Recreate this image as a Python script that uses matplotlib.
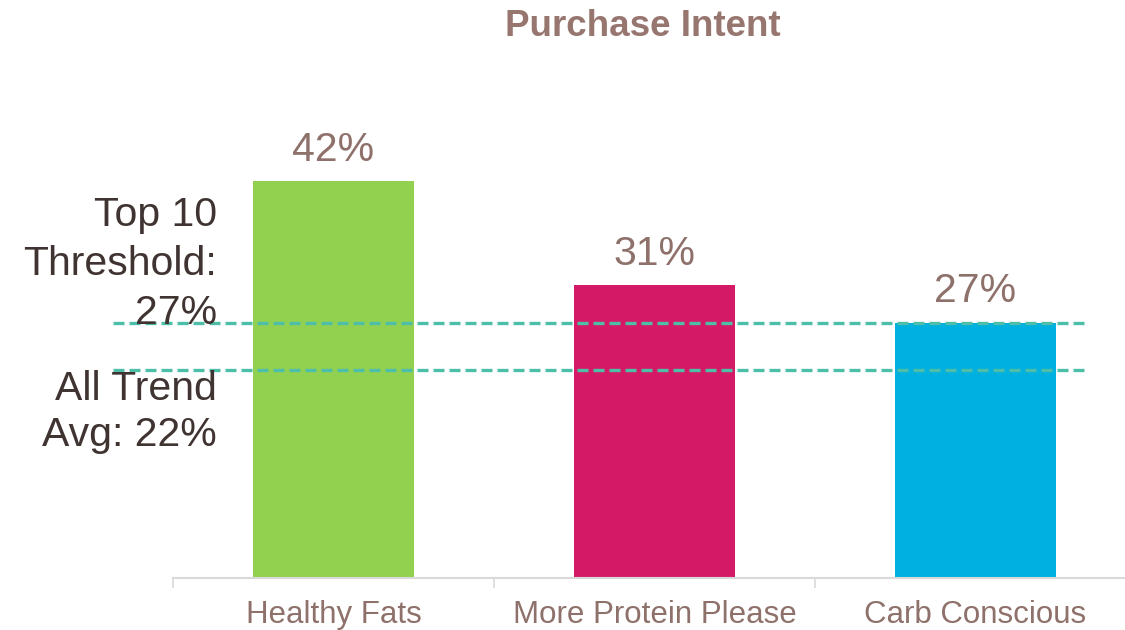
import numpy as np
import matplotlib.pyplot as plt

plt.rcParams['font.family'] = ['Liberation Sans', 'DejaVu Sans']

categories = ['Healthy Fats', 'More Protein Please', 'Carb Conscious']
intent = [42, 31, 27]
bar_colors = ['#92D050', '#D41A67', '#00B0E0']

top10_threshold = 27
trend_avg = 22

label_color = '#8E716B'
note_color = '#403432'
line_color = '#4DBFA8'

fig = plt.figure(figsize=(11.25, 6.3), dpi=100)
ax = fig.add_axes([173 / 1125, 52 / 630, 963 / 1125, 472.5 / 630])

x = np.arange(len(categories))
ax.bar(x, intent, width=0.5, color=bar_colors, zorder=2)

for xi, v in zip(x, intent):
    ax.annotate(f'{v}%', (xi, v), xytext=(0, 9), textcoords='offset points',
                ha='center', va='bottom', fontsize=29.5, color=label_color)

# reference lines run past the left edge, next to their labels
for yv in [top10_threshold, trend_avg]:
    ax.axhline(yv, xmin=-0.062, xmax=0.947, color=line_color, lw=2.4,
               dashes=(3.3, 1.5), clip_on=False, zorder=3)

ax.set_xlim(-0.5, 2.5)
ax.set_ylim(0, 50)
ax.set_yticks([])
ax.set_xticks(x)
ax.set_xticklabels(categories, fontsize=22.5, color=label_color)
ax.tick_params(axis='x', which='major', length=0, pad=16)
ax.set_xticks([-0.5, 0.5, 1.5, 2.5], minor=True)
ax.tick_params(axis='x', which='minor', length=7, width=1.2, color='#D9D9D9')

for side in ['top', 'right', 'left']:
    ax.spines[side].set_visible(False)
ax.spines['bottom'].set_color('#D9D9D9')
ax.spines['bottom'].set_linewidth(1.5)

fig.text(643 / 1125, 1 - 26 / 630, 'Purchase Intent', ha='center', va='center',
         fontsize=26.5, fontweight='bold', color='#97766F')

fig.text(217 / 1125, 1 - 264 / 630, f'Top 10\nThreshold:\n{top10_threshold}%',
         ha='right', va='center', fontsize=29.5, color=note_color, linespacing=1.38)
fig.text(217 / 1125, 1 - 412 / 630, f'All Trend\nAvg: {trend_avg}%',
         ha='right', va='center', fontsize=29.5, color=note_color, linespacing=1.25)

fig.savefig('out.png', dpi=100)
